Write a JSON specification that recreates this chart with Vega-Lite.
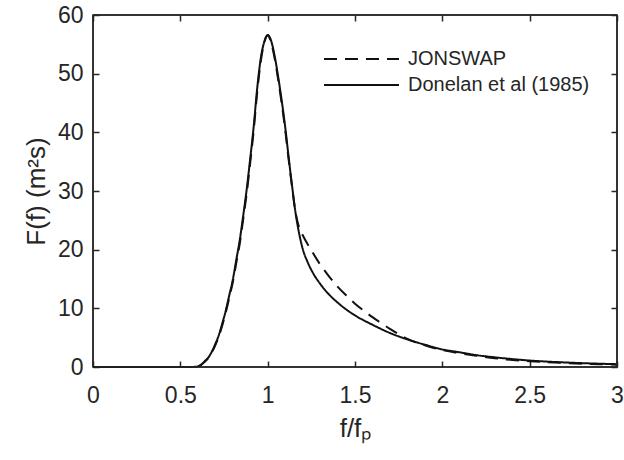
{
  "$schema": "https://vega.github.io/schema/vega-lite/v6.json",
  "width": 524,
  "height": 352,
  "autosize": {"type": "none"},
  "padding": {"left": 93, "top": 15, "right": 7, "bottom": 93},
  "background": "white",
  "config": {
    "view": {"stroke": "#262626", "strokeWidth": 1.5},
    "font": "Liberation Sans",
    "axis": {
      "domain": false, "offset": -6, "labelFlush": false,
      "tickColor": "#262626", "tickWidth": 1.5, "tickSize": 6,
      "labelFont": "Liberation Sans", "labelFontSize": 23, "labelColor": "#262626",
      "titleFont": "Liberation Sans", "titleFontSize": 26, "titleFontWeight": "normal", "titleColor": "#262626",
      "grid": false
    },
    "legend": {
      "labelFont": "Liberation Sans", "labelFontSize": 20, "labelColor": "#262626", "labelLimit": 400
    }
  },
  "datasets": {
    "curves": [
      {"x": 0, "F": 0, "s": "Donelan et al (1985)"},
      {"x": 0.3, "F": 0, "s": "Donelan et al (1985)"},
      {"x": 0.55, "F": 0, "s": "Donelan et al (1985)"},
      {"x": 0.6, "F": 0.1, "s": "Donelan et al (1985)"},
      {"x": 0.62, "F": 0.4, "s": "Donelan et al (1985)"},
      {"x": 0.64, "F": 1.0, "s": "Donelan et al (1985)"},
      {"x": 0.66, "F": 1.6, "s": "Donelan et al (1985)"},
      {"x": 0.68, "F": 2.6, "s": "Donelan et al (1985)"},
      {"x": 0.70, "F": 3.9, "s": "Donelan et al (1985)"},
      {"x": 0.72, "F": 5.4, "s": "Donelan et al (1985)"},
      {"x": 0.74, "F": 7.4, "s": "Donelan et al (1985)"},
      {"x": 0.76, "F": 9.6, "s": "Donelan et al (1985)"},
      {"x": 0.78, "F": 12.2, "s": "Donelan et al (1985)"},
      {"x": 0.80, "F": 14.8, "s": "Donelan et al (1985)"},
      {"x": 0.82, "F": 18.2, "s": "Donelan et al (1985)"},
      {"x": 0.84, "F": 21.6, "s": "Donelan et al (1985)"},
      {"x": 0.86, "F": 25.8, "s": "Donelan et al (1985)"},
      {"x": 0.88, "F": 30.3, "s": "Donelan et al (1985)"},
      {"x": 0.90, "F": 35.5, "s": "Donelan et al (1985)"},
      {"x": 0.92, "F": 41.0, "s": "Donelan et al (1985)"},
      {"x": 0.94, "F": 47.5, "s": "Donelan et al (1985)"},
      {"x": 0.96, "F": 52.5, "s": "Donelan et al (1985)"},
      {"x": 0.98, "F": 55.4, "s": "Donelan et al (1985)"},
      {"x": 1.0, "F": 56.6, "s": "Donelan et al (1985)"},
      {"x": 1.02, "F": 55.6, "s": "Donelan et al (1985)"},
      {"x": 1.04, "F": 53.0, "s": "Donelan et al (1985)"},
      {"x": 1.06, "F": 49.5, "s": "Donelan et al (1985)"},
      {"x": 1.08, "F": 45.5, "s": "Donelan et al (1985)"},
      {"x": 1.10, "F": 41.0, "s": "Donelan et al (1985)"},
      {"x": 1.12, "F": 35.8, "s": "Donelan et al (1985)"},
      {"x": 1.14, "F": 30.8, "s": "Donelan et al (1985)"},
      {"x": 1.16, "F": 26.2, "s": "Donelan et al (1985)"},
      {"x": 1.18, "F": 22.8, "s": "Donelan et al (1985)"},
      {"x": 1.20, "F": 20.2, "s": "Donelan et al (1985)"},
      {"x": 1.23, "F": 17.8, "s": "Donelan et al (1985)"},
      {"x": 1.26, "F": 16.0, "s": "Donelan et al (1985)"},
      {"x": 1.30, "F": 14.2, "s": "Donelan et al (1985)"},
      {"x": 1.35, "F": 12.4, "s": "Donelan et al (1985)"},
      {"x": 1.40, "F": 11.0, "s": "Donelan et al (1985)"},
      {"x": 1.45, "F": 9.8, "s": "Donelan et al (1985)"},
      {"x": 1.50, "F": 8.8, "s": "Donelan et al (1985)"},
      {"x": 1.60, "F": 7.2, "s": "Donelan et al (1985)"},
      {"x": 1.70, "F": 5.8, "s": "Donelan et al (1985)"},
      {"x": 1.80, "F": 4.7, "s": "Donelan et al (1985)"},
      {"x": 1.90, "F": 3.8, "s": "Donelan et al (1985)"},
      {"x": 2.0, "F": 3.0, "s": "Donelan et al (1985)"},
      {"x": 2.1, "F": 2.5, "s": "Donelan et al (1985)"},
      {"x": 2.2, "F": 2.0, "s": "Donelan et al (1985)"},
      {"x": 2.3, "F": 1.65, "s": "Donelan et al (1985)"},
      {"x": 2.4, "F": 1.35, "s": "Donelan et al (1985)"},
      {"x": 2.5, "F": 1.1, "s": "Donelan et al (1985)"},
      {"x": 2.6, "F": 0.92, "s": "Donelan et al (1985)"},
      {"x": 2.7, "F": 0.78, "s": "Donelan et al (1985)"},
      {"x": 2.8, "F": 0.66, "s": "Donelan et al (1985)"},
      {"x": 2.9, "F": 0.56, "s": "Donelan et al (1985)"},
      {"x": 3.0, "F": 0.48, "s": "Donelan et al (1985)"},
      {"x": 0, "F": 0, "s": "JONSWAP"},
      {"x": 0.3, "F": 0, "s": "JONSWAP"},
      {"x": 0.55, "F": 0, "s": "JONSWAP"},
      {"x": 0.6, "F": 0.1, "s": "JONSWAP"},
      {"x": 0.62, "F": 0.4, "s": "JONSWAP"},
      {"x": 0.64, "F": 0.9, "s": "JONSWAP"},
      {"x": 0.66, "F": 1.5, "s": "JONSWAP"},
      {"x": 0.68, "F": 2.5, "s": "JONSWAP"},
      {"x": 0.70, "F": 3.7, "s": "JONSWAP"},
      {"x": 0.72, "F": 5.2, "s": "JONSWAP"},
      {"x": 0.74, "F": 7.1, "s": "JONSWAP"},
      {"x": 0.76, "F": 9.3, "s": "JONSWAP"},
      {"x": 0.78, "F": 11.8, "s": "JONSWAP"},
      {"x": 0.80, "F": 14.4, "s": "JONSWAP"},
      {"x": 0.82, "F": 17.7, "s": "JONSWAP"},
      {"x": 0.84, "F": 21.0, "s": "JONSWAP"},
      {"x": 0.86, "F": 25.2, "s": "JONSWAP"},
      {"x": 0.88, "F": 29.6, "s": "JONSWAP"},
      {"x": 0.90, "F": 34.8, "s": "JONSWAP"},
      {"x": 0.92, "F": 40.3, "s": "JONSWAP"},
      {"x": 0.94, "F": 46.8, "s": "JONSWAP"},
      {"x": 0.96, "F": 52.0, "s": "JONSWAP"},
      {"x": 0.98, "F": 55.2, "s": "JONSWAP"},
      {"x": 1.0, "F": 56.5, "s": "JONSWAP"},
      {"x": 1.02, "F": 55.3, "s": "JONSWAP"},
      {"x": 1.04, "F": 52.6, "s": "JONSWAP"},
      {"x": 1.06, "F": 49.0, "s": "JONSWAP"},
      {"x": 1.08, "F": 45.0, "s": "JONSWAP"},
      {"x": 1.10, "F": 40.5, "s": "JONSWAP"},
      {"x": 1.12, "F": 35.4, "s": "JONSWAP"},
      {"x": 1.14, "F": 30.6, "s": "JONSWAP"},
      {"x": 1.16, "F": 26.3, "s": "JONSWAP"},
      {"x": 1.18, "F": 23.8, "s": "JONSWAP"},
      {"x": 1.20, "F": 22.5, "s": "JONSWAP"},
      {"x": 1.25, "F": 19.9, "s": "JONSWAP"},
      {"x": 1.30, "F": 17.5, "s": "JONSWAP"},
      {"x": 1.35, "F": 15.5, "s": "JONSWAP"},
      {"x": 1.40, "F": 13.7, "s": "JONSWAP"},
      {"x": 1.45, "F": 12.2, "s": "JONSWAP"},
      {"x": 1.50, "F": 10.8, "s": "JONSWAP"},
      {"x": 1.55, "F": 9.6, "s": "JONSWAP"},
      {"x": 1.60, "F": 8.5, "s": "JONSWAP"},
      {"x": 1.65, "F": 7.5, "s": "JONSWAP"},
      {"x": 1.70, "F": 6.5, "s": "JONSWAP"},
      {"x": 1.75, "F": 5.6, "s": "JONSWAP"},
      {"x": 1.80, "F": 4.8, "s": "JONSWAP"},
      {"x": 1.90, "F": 3.7, "s": "JONSWAP"},
      {"x": 2.0, "F": 2.9, "s": "JONSWAP"},
      {"x": 2.1, "F": 2.35, "s": "JONSWAP"},
      {"x": 2.2, "F": 1.9, "s": "JONSWAP"},
      {"x": 2.3, "F": 1.5, "s": "JONSWAP"},
      {"x": 2.4, "F": 1.2, "s": "JONSWAP"},
      {"x": 2.5, "F": 1.0, "s": "JONSWAP"},
      {"x": 2.6, "F": 0.82, "s": "JONSWAP"},
      {"x": 2.7, "F": 0.68, "s": "JONSWAP"},
      {"x": 2.8, "F": 0.56, "s": "JONSWAP"},
      {"x": 2.9, "F": 0.47, "s": "JONSWAP"},
      {"x": 3.0, "F": 0.4, "s": "JONSWAP"}
    ],
    "frame": [
      {"x": 0, "F": 0},
      {"x": 3, "F": 60}
    ],
    "one": [
      {"k": 1}
    ]
  },
  "layer": [
    {
      "data": {"name": "curves"},
      "mark": {"type": "line", "interpolate": "monotone", "strokeWidth": 2, "color": "#111111"},
      "encoding": {
        "x": {
          "field": "x", "type": "quantitative",
          "scale": {"domain": [0, 3], "nice": false, "zero": false},
          "axis": {"orient": "bottom", "values": [0, 0.5, 1, 1.5, 2, 2.5, 3], "format": "~g", "labelPadding": 17, "title": "f/fₚ", "titlePadding": 8}
        },
        "y": {
          "field": "F", "type": "quantitative",
          "scale": {"domain": [0, 60], "nice": false},
          "axis": {"orient": "left", "values": [0, 10, 20, 30, 40, 50, 60], "labelPadding": 10, "title": "F(f) (m²s)", "titlePadding": 8}
        },
        "strokeDash": {
          "field": "s", "type": "nominal",
          "scale": {"domain": ["JONSWAP", "Donelan et al (1985)"], "range": [[13, 8], [1, 0]]},
          "legend": {
            "orient": "none", "legendX": 221, "legendY": 34, "title": null,
            "symbolType": "M0,0H10", "symbolSize": 225, "symbolStrokeWidth": 2, "symbolStrokeColor": "#111111",
            "labelOffset": 74, "rowPadding": 6
          }
        }
      }
    },
    {
      "data": {"name": "frame"},
      "mark": {"type": "point", "opacity": 0},
      "encoding": {
        "x": {"field": "x", "type": "quantitative", "axis": {"orient": "top", "values": [0, 0.5, 1, 1.5, 2, 2.5, 3], "labelOpacity": 0, "labelColor": "transparent", "title": null}},
        "y": {"field": "F", "type": "quantitative", "axis": {"orient": "right", "values": [0, 10, 20, 30, 40, 50, 60], "labelOpacity": 0, "labelColor": "transparent", "title": null}}
      }
    },
    {
      "data": {"name": "one"},
      "mark": {"type": "rule", "color": "#262626", "strokeWidth": 1.5},
      "encoding": {"y": {"datum": 60, "type": "quantitative", "axis": null}}
    },
    {
      "data": {"name": "one"},
      "mark": {"type": "rule", "color": "#262626", "strokeWidth": 1.5},
      "encoding": {"x": {"datum": 3, "type": "quantitative", "axis": null}}
    },
    {
      "data": {"name": "one"},
      "mark": {"type": "rule", "color": "#262626", "strokeWidth": 1.5},
      "encoding": {"y": {"datum": 0, "type": "quantitative", "axis": null}}
    },
    {
      "data": {"name": "one"},
      "mark": {"type": "rule", "color": "#262626", "strokeWidth": 1.5},
      "encoding": {"x": {"datum": 0, "type": "quantitative", "axis": null}}
    }
  ],
  "resolve": {"axis": {"x": "independent", "y": "independent"}}
}
